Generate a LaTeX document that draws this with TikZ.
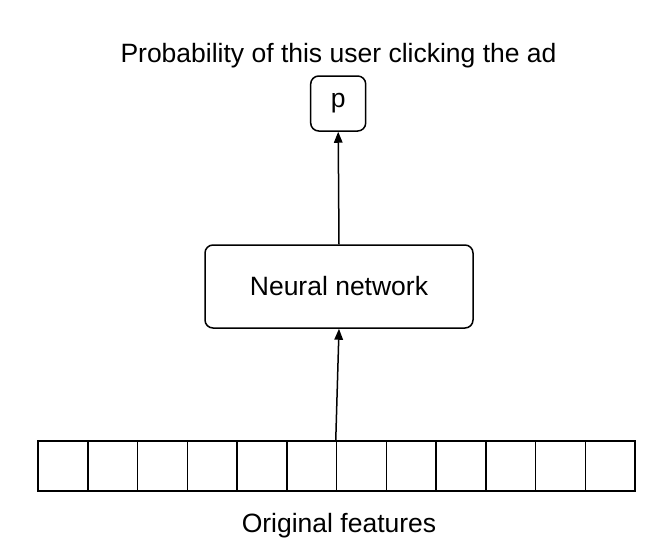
\documentclass[tikz,border=0pt]{standalone}
\usepackage{fontspec}
\setmainfont{Liberation Sans}
\usetikzlibrary{arrows.meta}
\begin{document}
\begin{tikzpicture}[x=1pt,y=-1pt,
  lbl/.style={font=\fontsize{26.5}{31}\selectfont, inner sep=0pt},
  cell/.style={draw, line width=1.5pt, minimum width=49.75pt, minimum height=50pt, inner sep=0pt},
  rbox/.style={draw, line width=1.5pt, rounded corners=8pt, inner sep=0pt, font=\fontsize{26.5}{31}\selectfont},
  conn/.style={line width=1.5pt, -{Triangle[length=11pt,width=8.5pt]}}]
\useasboundingbox (0,0) rectangle (662,544);
\node[lbl, anchor=base] (title) at (338.5,62.3) {Probability of this user clicking the ad};
\node[rbox, minimum width=55pt, minimum height=55pt] (p) at (338.2,103.5) {p};
\node[rbox, minimum width=268pt, minimum height=83pt] (nn) at (339,286.5) {Neural network};
\foreach \i in {1,...,12}{
  \node[cell] (c\i) at ({38+49.75*(\i-0.5)},466) {};
}
\node[lbl, anchor=base] (orig) at (339,532.7) {Original features};
\draw[conn] (c7.north west) -- (nn.south);
\draw[conn] (nn.north) -- (p.south);
\end{tikzpicture}
\end{document}
